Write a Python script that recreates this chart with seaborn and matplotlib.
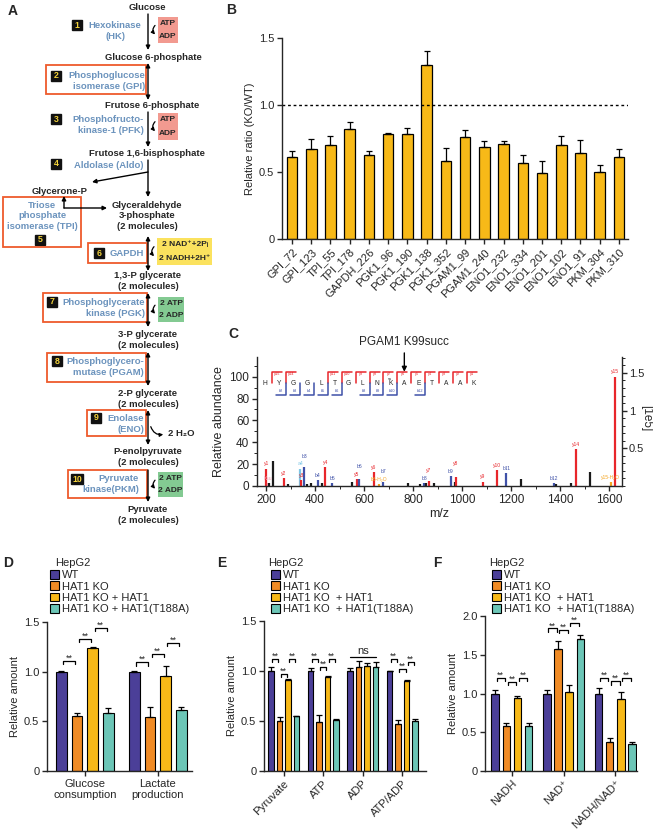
import numpy as np
import pandas as pd
import matplotlib
matplotlib.use("Agg")
import matplotlib.pyplot as plt
from matplotlib.patches import Rectangle, Patch, FancyArrowPatch
from matplotlib.ticker import MultipleLocator
import seaborn as sns

# figure size in pixels (dpi 100)
W, H = 653, 832

# colours
PURPLE = "#4b3f98"
ORANGE = "#f08b25"
GOLD = "#f7b918"
TEAL = "#6cc6b7"
ENZ_BLUE = "#6b93bd"
FRAME = "#ee5b2c"

# ---------------- panel B: succinylation sites ----------------
b_sites = ["GPI_72", "GPI_123", "TPI_55", "TPI_178", "GAPDH_226", "PGK1_96",
           "PGK1_190", "PGK1_138", "PGK1_352", "PGAM1_99", "PGAM1_240",
           "ENO1_232", "ENO1_334", "ENO1_201", "ENO1_102", "ENO1_91",
           "PKM_304", "PKM_310"]
b_ratio = [0.61, 0.67, 0.70, 0.82, 0.63, 0.78, 0.78, 1.30, 0.58, 0.76, 0.69,
           0.71, 0.57, 0.49, 0.70, 0.64, 0.50, 0.61]
b_err = [0.05, 0.08, 0.07, 0.05, 0.03, 0.01, 0.05, 0.10, 0.10, 0.05, 0.04,
         0.02, 0.06, 0.09, 0.07, 0.10, 0.05, 0.06]

# ---------------- panel C: MS/MS spectrum ----------------
c_mz = [201, 206, 211, 229, 272, 288, 340, 343, 356, 368, 382, 411, 430, 442,
        469, 550, 571, 579, 639, 661, 677, 779, 829, 845, 853, 863, 887, 954,
        972, 974, 1085, 1142, 1180, 1239, 1375, 1383, 1445, 1464, 1522, 1606,
        1624]
c_abund = [16, 3, 2.5, 23, 7, 2, 16, 5.5, 17, 2, 2.5, 5.5, 2.5, 17.5,
           3, 3.5, 6.5, 6, 13, 2, 4, 3, 2, 3, 2.5, 5, 2.5, 9,
           3.5, 8.5, 4, 14.5, 12, 6, 3, 2, 2.5, 33.5, 13, 3.5,
           100]
c_kind = ["y", "k", "o", "o", "y", "o", "a", "y", "b", "o", "o", "b", "o", "y",
          "b", "o", "y", "b", "y", "w", "b", "o", "o", "b", "o", "y", "o", "b",
          "o", "y", "y", "y", "b", "o", "b", "o", "o", "y", "o", "w",
          "y"]
c_label = ["y1", "Ksu", "", "", "y2", "", "a4", "y3", "b3", "", "", "b4", "", "y4",
           "b5", "", "y5", "b6", "y6", "b6-H\u2082O", "b7", "", "", "b8", "", "y7", "", "b9",
           "", "y8", "y9", "y10", "b11", "", "b12", "", "", "y14", "", "y15-H\u2082O",
           "y15"]
c_colors = {"y": "#e8262b", "b": "#3f51a8", "o": "#1a1a1a", "a": "#7cc6e6",
            "k": "#f2a3b5", "w": "#f5a623"}
c_peptide = "HYGGLTGLNKAETAAK"
c_y_cuts = [1, 2, 5, 6, 7, 8, 9, 10, 11, 12, 13, 14, 15]
c_b_cuts = [2, 3, 4, 5, 6, 8, 9, 10, 12]

# ---------------- panels D-F: metabolite levels ----------------
groups = ["WT", "HAT1 KO", "HAT1 KO + HAT1", "HAT1 KO + HAT1(T188A)"]
group_colors = [PURPLE, ORANGE, GOLD, TEAL]

d_cats = ["Glucose\nconsumption", "Lactate\nproduction"]
d_wt, d_wt_err = [1.00, 1.00], [0.01, 0.006]
d_ko, d_ko_err = [0.553, 0.545], [0.033, 0.10]
d_res, d_res_err = [1.242, 0.956], [0.011, 0.10]
d_mut, d_mut_err = [0.580, 0.613], [0.055, 0.033]
d_sig = [(0, 0, 1, 1.11, "**"), (0, 1, 2, 1.33, "**"), (0, 2, 3, 1.44, "**"),
         (1, 0, 1, 1.095, "**"), (1, 1, 2, 1.18, "**"), (1, 2, 3, 1.29, "**")]

e_cats = ["Pyruvate", "ATP", "ADP", "ATP/ADP"]
e_wt, e_wt_err = [1.0, 1.0, 1.0, 1.0], [0.04, 0.026, 0.034, 0.004]
e_ko, e_ko_err = [0.502, 0.49, 1.044, 0.469], [0.038, 0.068, 0.056, 0.04]
e_res, e_res_err = [0.912, 0.942, 1.05, 0.899], [0.007, 0.013, 0.033, 0.007]
e_mut, e_mut_err = [0.548, 0.515, 1.04, 0.499], [0.007, 0.007, 0.053, 0.021]
e_sig = [(0, 0, 1, 1.12, "**"), (0, 1, 2, 0.975, "**"), (0, 2, 3, 1.12, "**"),
         (1, 0, 1, 1.12, "**"), (1, 1, 2, 1.04, "**"), (1, 2, 3, 1.12, "**"),
         (2, 0, 3, 1.14, "ns"),
         (3, 0, 1, 1.12, "**"), (3, 1, 2, 1.025, "**"), (3, 2, 3, 1.09, "**")]

f_cats = ["NADH", "NAD\u207a", "NADH/NAD\u207a"]
f_wt, f_wt_err = [1.0, 1.0, 1.0], [0.043, 0.05, 0.073]
f_ko, f_ko_err = [0.579, 1.575, 0.373], [0.043, 0.107, 0.056]
f_res, f_res_err = [0.944, 1.02, 0.927], [0.022, 0.087, 0.09]
f_mut, f_mut_err = [0.579, 1.708, 0.343], [0.043, 0.052, 0.026]
f_sig = [(0, 0, 1, 1.20, "**"), (0, 1, 2, 1.15, "**"), (0, 2, 3, 1.20, "**"),
         (1, 0, 1, 1.84, "**"), (1, 1, 2, 1.82, "**"), (1, 2, 3, 1.91, "**"),
         (2, 0, 1, 1.20, "**"), (2, 1, 2, 1.16, "**"), (2, 2, 3, 1.20, "**")]


def rect(x0, y0, x1, y1):
    # pixel box (top-left origin) -> figure fraction rect
    return [x0 / W, 1 - y1 / H, (x1 - x0) / W, (y1 - y0) / H]


def fig_pt(x, y):
    return x / W, 1 - y / H


sns.set_style("ticks")
plt.rcParams["font.family"] = ["Liberation Sans", "DejaVu Sans"]
plt.rcParams["font.size"] = 8
plt.rcParams["axes.linewidth"] = 1.0
for k in ["xtick", "ytick"]:
    plt.rcParams[k + ".major.width"] = 1.0
    plt.rcParams[k + ".major.size"] = 3.5
    plt.rcParams[k + ".minor.width"] = 0.7
    plt.rcParams[k + ".minor.size"] = 2
    plt.rcParams[k + ".labelsize"] = 8
    plt.rcParams[k + ".major.pad"] = 2

fig = plt.figure(figsize=(W / 100, H / 100), dpi=100)

# ================= panel A : glycolysis diagram =================
axA = fig.add_axes([0, 0, 1, 1])
axA.set_xlim(0, W)
axA.set_ylim(H, 0)
axA.axis("off")

MX = 148  # main pathway line
FS_A = 6.8

metabolites = [("Glucose", 147, 7), ("Glucose 6-phosphate", 153, 57),
               ("Frutose 6-phosphate", 152, 106), ("Frutose 1,6-bisphosphate", 147, 153),
               ("Glyceraldehyde\n3-phosphate\n(2 molecules)", 147, 216),
               ("1,3-P glycerate\n(2 molecules)", 148, 281),
               ("3-P glycerate\n(2 molecules)", 148, 340),
               ("2-P glycerate\n(2 molecules)", 148, 399),
               ("P-enolpyruvate\n(2 molecules)", 148, 457),
               ("Pyruvate\n(2 molecules)", 148, 515), ("Glycerone-P", 60, 191)]
for s, x, y in metabolites:
    axA.text(x, y, s, ha="center", va="center", fontsize=FS_A, fontweight="bold",
             linespacing=1.15)

# main arrows (y_start, y_end, double-headed)
steps = [(14, 50, False), (63, 100, True), (112, 147, False), (160, 197, False),
         (236, 271, True), (293, 327, True), (352, 386, True), (410, 445, True),
         (470, 502, False)]
for y0, y1, both in steps:
    axA.annotate("", xy=(MX, y1), xytext=(MX, y0),
                 arrowprops=dict(arrowstyle="<|-|>" if both else "-|>", lw=1.0,
                                 color="k", mutation_scale=6, shrinkA=0, shrinkB=0))
# aldolase branch and TPI arrows
axA.annotate("", xy=(92, 182), xytext=(MX, 172),
             arrowprops=dict(arrowstyle="-|>", lw=1.0, color="k", mutation_scale=6,
                             shrinkA=0, shrinkB=0))
axA.annotate("", xy=(64, 196), xytext=(64, 208),
             arrowprops=dict(arrowstyle="-|>", lw=1.0, color="k", mutation_scale=6,
                             shrinkA=0, shrinkB=0))
axA.annotate("", xy=(107, 208), xytext=(64, 208),
             arrowprops=dict(arrowstyle="-|>", lw=1.0, color="k", mutation_scale=6,
                             shrinkA=0, shrinkB=0))

# enzymes: number, text, x, ha, y, badge position, frame
enzymes = [("1", "Hexokinase\n(HK)", 115, "center", 31, (77, 25), None),
           ("2", "Phosphoglucose\nisomerase (GPI)", 145, "right", 81, (56, 76), (46, 65, 146, 94)),
           ("3", "Phosphofructo-\nkinase-1 (PFK)", 144, "right", 125, (56, 119), None),
           ("4", "Aldolase (Aldo)", 109, "center", 165, (56, 164), None),
           ("5", "Triose\nphosphate\nisomerase (TPI)", 42, "center", 216, (40, 240), (3, 197, 81, 247)),
           ("6", "GAPDH", 127, "center", 253, (99, 253), (88, 243, 147, 263)),
           ("7", "Phosphoglycerate\nkinase (PGK)", 145, "right", 308, (52, 302), (43, 293, 147, 322)),
           ("8", "Phosphoglycero-\nmutase (PGAM)", 144, "right", 367, (57, 361), (47, 353, 146, 382)),
           ("9", "Enolase\n(ENO)", 144, "right", 424, (96, 418), (87, 410, 146, 436)),
           ("10", "Pyruvate\nkinase(PKM)", 139, "right", 484, (77, 479), (68, 470, 147, 498))]
for num, s, x, ha, y, (bx, by), fr in enzymes:
    axA.text(x, y, s, ha=ha, va="center", fontsize=FS_A, fontweight="bold",
             color=ENZ_BLUE, linespacing=1.2, multialignment=ha)
    bw = 9.5 if len(num) == 1 else 12.5
    axA.add_patch(Rectangle((bx - bw / 2, by - 4.8), bw, 9.6, color="#111111"))
    axA.text(bx, by, num, ha="center", va="center", fontsize=6.3, fontweight="bold",
             color="#f3d23a")
    if fr is not None:
        axA.add_patch(Rectangle((fr[0], fr[1]), fr[2] - fr[0], fr[3] - fr[1],
                                fill=False, edgecolor=FRAME, lw=1.3))

# cofactor boxes: colour, box, top text, bottom text
cofactors = [("#f29a90", (158, 17, 178, 43), "ATP", "ADP"),
             ("#f29a90", (158, 113, 178, 140), "ATP", "ADP"),
             ("#fbe25e", (157, 238, 212, 265), "2 NAD\u207a+2P\u1d62", "2 NADH+2H\u207a"),
             ("#83ca92", (158, 297, 184, 322), "2 ATP", "2 ADP"),
             ("#83ca92", (158, 472, 183, 497), "2 ATP", "2 ADP")]
for col, (x0, y0, x1, y1), t1, t2 in cofactors:
    axA.add_patch(Rectangle((x0, y0), x1 - x0, y1 - y0, color=col, lw=0))
    hh = (y1 - y0) / 4
    axA.text((x0 + x1) / 2, y0 + hh, t1, ha="center", va="center", fontsize=6,
             fontweight="bold")
    axA.text((x0 + x1) / 2, y1 - hh, t2, ha="center", va="center", fontsize=6,
             fontweight="bold")
    axA.add_patch(FancyArrowPatch((x0 - 1, y0 + hh), (x0 - 1, y1 - hh),
                                  connectionstyle="arc3,rad=0.6", arrowstyle="-|>",
                                  mutation_scale=5, lw=0.9, color="k"))
axA.add_patch(FancyArrowPatch((MX + 2, 424), (166, 434), connectionstyle="arc3,rad=0.5",
                              arrowstyle="-|>", mutation_scale=5, lw=0.9, color="k"))
axA.text(168, 434, "2 H\u2082O", ha="left", va="center", fontsize=FS_A, fontweight="bold")

# panel letters
for s, x, y in [("A", 13, 11), ("B", 231, 10), ("C", 233, 334),
                ("D", 8, 563), ("E", 222, 563), ("F", 437, 563)]:
    fig.text(*fig_pt(x, y), s, fontsize=10, fontweight="bold", ha="center", va="center")

# ================= panel B =================
axB = fig.add_axes(rect(282, 38, 628, 239))
axB.patch.set_alpha(0)
dfB = pd.DataFrame({"site": b_sites, "ratio": b_ratio})
sns.barplot(data=dfB, x="site", y="ratio", color=GOLD, saturation=1, width=0.55,
            edgecolor="black", linewidth=0.9, errorbar=None, ax=axB)
xb = np.arange(len(b_sites))
axB.errorbar(xb, b_ratio, yerr=[np.zeros(len(b_err)), b_err], fmt="none",
             ecolor="black", elinewidth=0.9, capsize=2.3, capthick=0.9, zorder=1)
axB.axhline(1.0, ls=(0, (2, 2)), color="black", lw=1.0)
axB.set_xlim(-0.52, len(b_sites) - 0.53)
axB.set_ylim(0, 1.5)
axB.set_yticks([0, 0.5, 1.0, 1.5], ["0", "0.5", "1.0", "1.5"])
axB.set_xlabel("")
axB.set_ylabel("Relative ratio (KO/WT)", fontsize=8, labelpad=3)
plt.setp(axB.get_xticklabels(), rotation=45, ha="right", rotation_mode="anchor")
sns.despine(ax=axB)

# ================= panel C =================
axC = fig.add_axes(rect(257, 357, 622, 486))
axC.patch.set_alpha(0)
axC.vlines(c_mz, 0, c_abund, colors=[c_colors[k] for k in c_kind], lw=1.6)
placed = []
for mz, ab, k, lab in zip(c_mz, c_abund, c_kind, c_label):
    if lab:
        ty = ab + 2
        for px_, py_ in placed:
            if abs(mz - px_) < 32 and abs(ty - py_) < 7:
                ty = py_ + 7
        axC.text(mz, ty, lab, ha="center", va="bottom", fontsize=3.6,
                 color=c_colors[k])
        placed.append((mz, ty))
seq_x0, seq_dx, seq_y = 197, 56.7, 94
for i, aa in enumerate(c_peptide):
    axC.text(seq_x0 + i * seq_dx, seq_y, aa, ha="center", va="center", fontsize=4.8)
axC.text(seq_x0 + 9 * seq_dx, seq_y + 4.3, "su", ha="center", va="center", fontsize=2.8)
for n in c_y_cuts:
    xc = seq_x0 + (n - 0.5) * seq_dx
    axC.plot([xc, xc, xc + 0.72 * seq_dx], [seq_y, 104.5, 104.5], color="#e8262b", lw=1.1)
    axC.text(xc + 0.38 * seq_dx, 102, "y%d" % (16 - n), ha="center", va="center",
             fontsize=2.8, color="#e8262b")
for n in c_b_cuts:
    xc = seq_x0 + (n - 0.5) * seq_dx
    axC.plot([xc, xc, xc - 0.72 * seq_dx], [seq_y, 83.5, 83.5], color="#3f51a8", lw=1.1)
    axC.text(xc - 0.38 * seq_dx, 86.5, "b%d" % n, ha="center", va="center",
             fontsize=2.8, color="#3f51a8")
x_arrow = seq_x0 + 10 * seq_dx
axC.annotate("PGAM1 K99succ", xy=(x_arrow, 104.5), xytext=(x_arrow, 126),
             ha="center", va="bottom", fontsize=8.5, annotation_clip=False,
             arrowprops=dict(arrowstyle="-|>", lw=1.0, color="k", mutation_scale=7,
                             shrinkA=1, shrinkB=0))
axC.set_xlim(163, 1652)
axC.set_ylim(0, 118)
axC.set_yticks(range(0, 101, 20))
axC.yaxis.set_minor_locator(MultipleLocator(10))
axC.set_xticks(range(200, 1601, 200))
axC.xaxis.set_minor_locator(MultipleLocator(100))
axC.tick_params(labelsize=8.5)
axC.set_xlabel("m/z", fontsize=9, labelpad=2)
axC.set_ylabel("Relative abundance", fontsize=9, labelpad=3)
axC.spines["top"].set_visible(False)
axC.spines["right"].set_visible(False)
axC2 = axC.twinx()
axC2.set_ylim(0, 118 * 1.45 / 100)
axC2.set_yticks([0.5, 1.0, 1.5], ["0.5", "1", "1.5"])
axC2.yaxis.set_minor_locator(MultipleLocator(0.1))
axC2.tick_params(labelsize=8, pad=1.5)
for s in ["top", "left", "bottom"]:
    axC2.spines[s].set_visible(False)
fig.text(*fig_pt(646, 418), "[1e5]", rotation=270, fontsize=8.5, ha="center", va="center")


# ================= panels D-F =================
def metab_panel(box, cats, vals, errs, sig, ymax, yticks, rotate, xlim, legend_xy,
                labels, hep_xy):
    ax = fig.add_axes(rect(*box))
    ax.patch.set_alpha(0)
    rows = []
    for g, v in zip(groups, vals):
        for c, val in zip(cats, v):
            rows.append({"cat": c, "group": g, "value": val})
    df = pd.DataFrame(rows)
    sns.barplot(data=df, x="cat", y="value", hue="group", hue_order=groups,
                palette=group_colors, saturation=1, width=0.86, gap=0.33,
                edgecolor="black", linewidth=0.8, errorbar=None, legend=False, ax=ax)
    centers = []
    for cont, e in zip(ax.containers, errs):
        xs = [b.get_x() + b.get_width() / 2 for b in cont]
        hs = [b.get_height() for b in cont]
        centers.append(xs)
        ax.errorbar(xs, hs, yerr=[np.zeros(len(e)), e], fmt="none", ecolor="black",
                    elinewidth=0.9, capsize=2, capthick=0.9, zorder=1)
    pitch = centers[1][0] - centers[0][0]
    dy = ymax * 0.022
    for c, i, j, y, txt in sig:
        if txt == "ns":
            x1, x2 = centers[i][c], centers[j][c]
            ax.plot([x1, x2], [y, y], color="black", lw=0.9)
            ax.text((x1 + x2) / 2, y + dy * 0.4, txt, ha="center", va="bottom", fontsize=8)
        else:
            x1 = centers[i][c] + 0.12 * pitch
            x2 = centers[j][c] - 0.12 * pitch
            ax.plot([x1, x1, x2, x2], [y - dy, y, y, y - dy], color="black", lw=0.9)
            ax.text((x1 + x2) / 2, y - dy * 0.6, txt, ha="center", va="bottom", fontsize=6.5)
    ax.set_xlim(*xlim)
    ax.set_ylim(0, ymax)
    ax.set_yticks(yticks, ["0"] + ["%.1f" % t for t in yticks[1:]])
    ax.set_xlabel("")
    ax.set_ylabel("Relative amount", fontsize=8, labelpad=3)
    if rotate:
        plt.setp(ax.get_xticklabels(), rotation=45, ha="right", rotation_mode="anchor")
    sns.despine(ax=ax)
    handles = [Patch(facecolor=c, edgecolor="black", linewidth=0.8) for c in group_colors]
    ax.legend(handles, labels, loc="upper left", bbox_to_anchor=fig_pt(*legend_xy),
              bbox_transform=fig.transFigure, frameon=False, fontsize=8,
              handlelength=0.8, handleheight=0.8, handletextpad=0.3,
              labelspacing=0.12, borderpad=0, borderaxespad=0)
    fig.text(*fig_pt(*hep_xy), "HepG2", fontsize=8, ha="left", va="center")
    return ax


labels_d = groups
labels_ef = ["WT", "HAT1 KO", "HAT1 KO  + HAT1", "HAT1 KO  + HAT1(T188A)"]

metab_panel((47, 622, 192, 771), d_cats,
            [d_wt, d_ko, d_res, d_mut], [d_wt_err, d_ko_err, d_res_err, d_mut_err],
            d_sig, 1.5, [0, 0.5, 1.0, 1.5], False, (-0.52, 1.47), (50, 570),
            labels_d, (55, 563))
metab_panel((264, 621, 426, 771), e_cats,
            [e_wt, e_ko, e_res, e_mut], [e_wt_err, e_ko_err, e_res_err, e_mut_err],
            e_sig, 1.5, [0, 0.5, 1.0, 1.5], True, (-0.5, 3.6), (271, 570),
            labels_ef, (268, 563))
metab_panel((485, 616, 637, 771), f_cats,
            [f_wt, f_ko, f_res, f_mut], [f_wt_err, f_ko_err, f_res_err, f_mut_err],
            f_sig, 2.0, [0, 0.5, 1.0, 1.5, 2.0], True, (-0.52, 2.42), (492, 570),
            labels_ef, (489, 563))

fig.savefig("out.png", dpi=100)
